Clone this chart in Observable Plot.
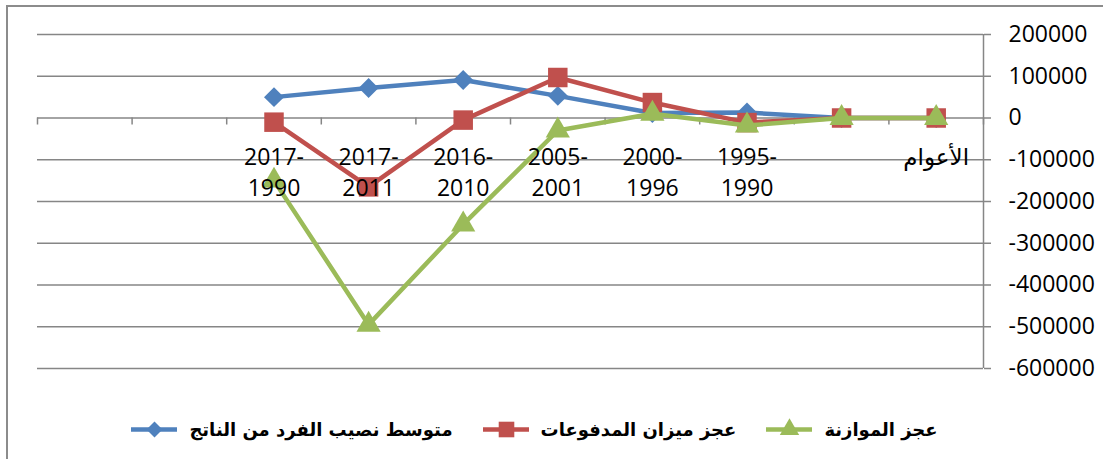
<!DOCTYPE html>
<html>
<head>
<meta charset="utf-8">
<script src="https://cdn.jsdelivr.net/npm/d3@7"></script>
<script src="https://cdn.jsdelivr.net/npm/@observablehq/plot@0.6"></script>
<style>
  html, body { margin: 0; padding: 0; background: #fff; width: 1103px; height: 459px; overflow: hidden; }
  #frame { position: absolute; left: 6px; top: 5px; width: 1200px; height: 500px;
           border-left: 2px solid #8c8c8c; border-top: 2px solid #8c8c8c; box-sizing: border-box; }
  #chart { position: absolute; left: 0; top: 0; }
  #legend { position: absolute; left: -17px; top: 412px; width: 1103px; height: 34px;
            display: flex; flex-direction: row; direction: rtl; justify-content: center; align-items: center;
            gap: 30px; font-family: "DejaVu Sans", sans-serif; font-size: 18px; font-weight: bold; color: #000; }
  .item { display: flex; flex-direction: row; align-items: center; gap: 12px; }
</style>
</head>
<body>
<div id="frame"></div>
<div id="chart"></div>
<div id="legend"></div>
<script>
// ---- data ----
const categories = ["", "", "2017-\n1990", "2017-\n2011", "2016-\n2010", "2005-\n2001", "2000-\n1996", "1995-\n1990", "", "الأعوام"];
const seriesNames = ["متوسط نصيب الفرد من الناتج", "عجز ميزان المدفوعات", "عجز الموازنة"];
const gdpPerCapita      = [null, null,   50000,   72000,   91000,  53000, 12000,  13000, 0, 0];
const balanceOfPayments = [null, null,  -10000, -165000,   -5000,  97000, 37000, -11000, 0, 0];
const budgetDeficit     = [null, null, -150000, -495000, -255000, -30000, 10000, -18000, 0, 0];
const yTicks = [200000, 100000, 0, -100000, -200000, -300000, -400000, -500000, -600000];

const colors = ["#4F81BD", "#C0504D", "#9BBB59"];
const symbols = ["diamond2", "square", "triangle"];
const radii = [9, 11, 9];
const seriesValues = [gdpPerCapita, balanceOfPayments, budgetDeficit];

const rows = seriesValues.map((vals, s) =>
  vals.map((v, i) => ({ s, i, v })).filter(d => d.v !== null));

const grid = "#868686";
const font = "'Open Sans', 'DejaVu Sans', sans-serif";

const marks = [
  Plot.ruleY(yTicks, { stroke: grid, strokeWidth: 1.5 }),
  Plot.ruleX([categories.length], { stroke: grid, strokeWidth: 1.5 }),
  Plot.ruleX(d3.range(categories.length + 1), { x: d => d, y1: 0, y2: 0, insetBottom: -7, stroke: grid, strokeWidth: 1.5 }),
  Plot.axisY({ anchor: "right", label: null, ticks: yTicks, tickFormat: d => String(d), tickSize: 7, tickPadding: 18,
               fontSize: 23, stroke: grid, strokeWidth: 1.5, fill: "#000", fontFamily: font })
];
rows.forEach((data, s) => {
  marks.push(Plot.line(data, { x: d => d.i + 0.5, y: "v", stroke: colors[s], strokeWidth: 4.5, strokeLinejoin: "round", strokeLinecap: "round" }));
  marks.push(Plot.dot(data, { x: d => d.i + 0.5, y: "v", symbol: () => symbols[s], r: radii[s], fill: colors[s], stroke: "none" }));
});
marks.push(Plot.text(categories, { x: (d, i) => i + 0.5, y: () => 0, text: d => d, dy: 25, lineAnchor: "top",
                                   fontSize: 23, lineHeight: 1.35, fill: "#000", fontFamily: font }));

const chart = Plot.plot({
  width: 1103,
  height: 395,
  marginLeft: 37,
  marginRight: 120,
  marginTop: 34,
  marginBottom: 27,
  x: { type: "linear", domain: [0, categories.length], axis: null },
  y: { domain: [-600000, 200000], axis: null },
  style: { background: "transparent", fontFamily: font },
  marks
});
document.getElementById("chart").appendChild(chart);

// legend (right to left, as in the reference)
const legend = document.getElementById("legend");
const order = [2, 1, 0];
order.forEach(s => {
  const item = document.createElement("div");
  item.className = "item";
  const label = document.createElement("span");
  label.textContent = seriesNames[s];
  const sym = Plot.plot({
    width: 46, height: 24, margin: 0,
    x: { domain: [0, 1], axis: null }, y: { domain: [0, 1], axis: null },
    style: { background: "transparent" },
    marks: [
      Plot.ruleY([0.5], { stroke: colors[s], strokeWidth: 4.5 }),
      Plot.dot([0.5], { x: d => d, y: () => 0.5, symbol: () => symbols[s], r: radii[s] * 0.8, fill: colors[s] })
    ]
  });
  item.appendChild(label);
  item.appendChild(sym);
  legend.appendChild(item);
});
</script>
</body>
</html>
